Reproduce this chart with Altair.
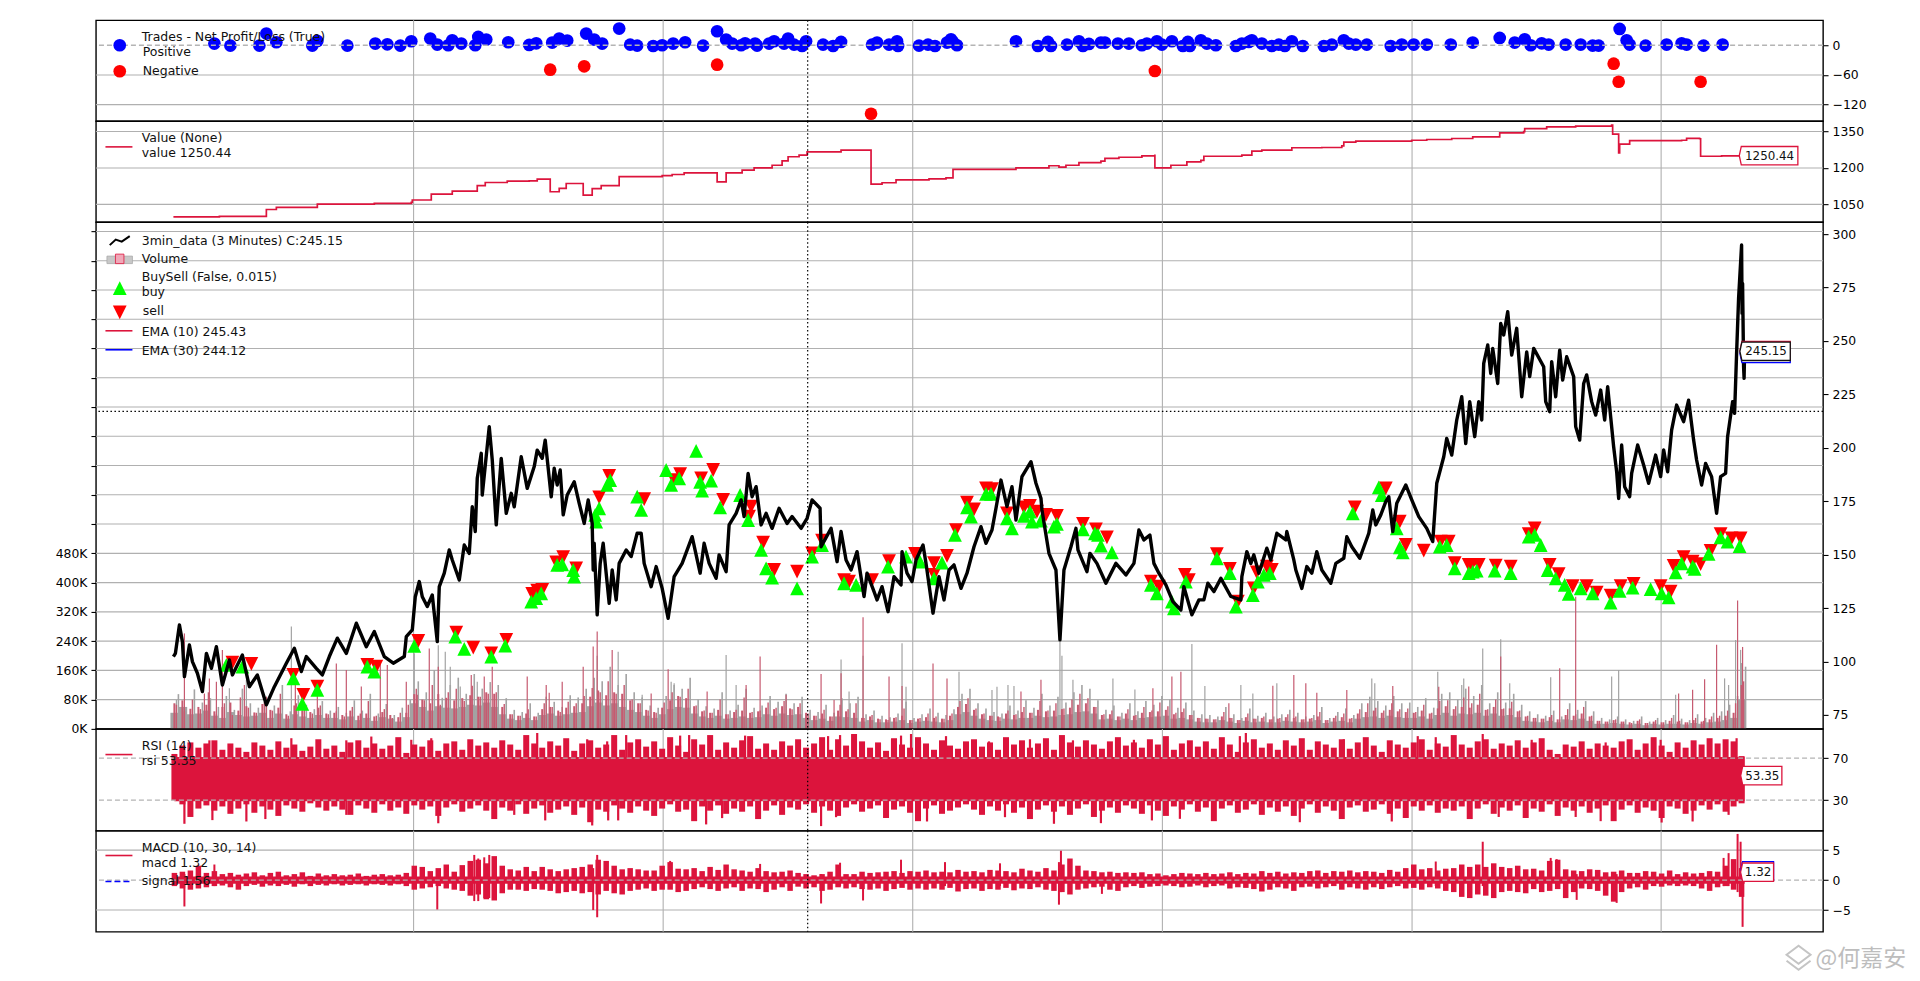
import altair as alt
import pandas as pd

# ---------- data ----------
tick_bars = [414.3, 664, 913.7, 1163.5, 1413.3, 1662.5]
cross_bar = 808.6
price_level = 217.06

trades_pos = [(215,3.4),(231,-0.7),(260,-0.7),(267,23.6),(277,6.1),(313,-0.7),(318,8.8),(348,-0.7),(376,3.4),(388,2),(401,-0.7),(412,8.1),(431,13.5),(438,1.4),(449,0),(453,10.1),(462,3.4),(476,0),(479,16.9),(487,11.5),(509,6.1),(530,0.7),(537,4),(553,5.4),(560,13.5),(568,9.5),(587,23.6),(595,11.5),(603,3.4),
 (620,33.8),(631,1.3),(638,-0.7),(654,-1.4),(663,0),(674,3.4),(686,6.1),(704,-0.7),(718,28.4),(727,11.5),(733,3.4),(742,0),(746,4),(756,3.4),(758,-0.7),(770,3.4),(775,8.1),(785,3.4),(789,13.5),(795,1.3),(803,-1.4),(807,8.1),(824,1.3),(834,-1.4),(842,6.8),(873,1.3),(878,5.4),(890,1.3),(898,8.1),(899,-1.4),(920,-0.7),(929,1.3),(936,-1.4),(948,5.4),(952,12.2),(954,6.8),(958,0),
 (1017,8.1),(1039,-1.4),(1049,6.8),(1052,-1.4),(1068,1.3),(1080,8.1),(1084,-1.4),(1090,2.7),(1102,5.4),(1106,5.4),(1119,3.4),(1130,3.4),(1143,0),(1148,3.4),(1158,8.1),(1163,1.3),(1173,8.1),(1184,-1.4),(1189,6.8),(1191,-1.4),(1202,10.1),(1208,3.4),(1217,0),(1237,-1.4),(1243,3.4),(1250,6.8),(1253,10.1),(1263,3.4),(1273,-1.4),(1280,1.3),(1286,-1.4),(1293,8.1),(1304,-1.4),(1325,-1.4),(1333,1.3),(1345,10.1),(1350,3.4),(1357,1.3),(1368,1.3),(1392,-1.4),
 (1403,1.4),(1415,1.4),(1428,1.4),(1452,1.4),(1474,5.4),(1501,14.9),(1516,5.4),(1526,12.2),(1532,0),(1543,4),(1550,1.4),(1567,1.4),(1582,1.4),(1594,-0.7),(1600,-0.7),(1621,33.1),(1628,10.1),(1631,1.4),(1647,-0.7),(1668,1.4),(1683,4),(1688,1.4),(1705,-0.7),(1724,1.4)]
trades_neg = [(551,-49.3),(585,-42.6),(718,-39.2),(872,-138.5),(1156,-52),(1615,-37.2),(1620,-73.7),(1702,-73.7)]

value_pts = [(174,999),(220,1001),(267,1003),(267,1029),(277,1038),(318,1051),(375,1054),(412,1058),(413,1068),(432,1068),(432,1092),(453,1092),(453,1105),(478,1105),(478,1127),(486,1127),(486,1140),(508,1146),(530,1147),(538,1154),(551,1150),(551,1102),(560,1116),(567,1136),(584,1136),(584,1088),(593,1115),(602,1127),(620,1127),(620,1164),(663,1168),(673,1173),(685,1180),(718,1180),(718,1143),(727,1180),(743,1191),(755,1200),(773,1211),(783,1229),(789,1246),(800,1253),(808,1266),(840,1266),(842,1273),(863,1273),(872,1269),(872,1133),(883,1139),(897,1151),(930,1155),(947,1159),(954,1194),(1017,1200),(1050,1209),(1060,1203),(1067,1211),(1080,1222),(1102,1228),(1106,1239),(1120,1244),(1143,1250),(1156,1255),(1156,1200),(1172,1211),(1188,1225),(1202,1231),(1205,1248),(1243,1253),(1253,1269),(1263,1273),(1293,1283),(1323,1284),(1343,1291),(1345,1306),(1357,1310),(1413,1314),(1428,1317),(1453,1321),(1474,1328),(1501,1328),(1501,1344),(1525,1349),(1526,1362),(1548,1369),(1577,1372),(1613,1376),(1614,1339),(1620,1336),(1620,1262),(1621,1298),(1627,1298),(1631,1312),(1683,1314),(1688,1322),(1701,1320),(1702,1248),(1723,1250),(1741,1250.44)]

price_pts = [(174,102.3),(176,103.8),(180,117.1),(183,109.3),(185,92.9),(190,107.7),(193,99.9),(198,94.5),(203,85.9),(207,103.8),(212,96.8),(217,106.9),(223,89.0),(230,100.7),(233,93.7),(243,103.0),(250,88.2),(258,93.7),(267,79.7),(275,88.2),(287,99.2),(295,106.2),(302,95.3),(307,102.3),(317,96.8),(323,93.7),(330,102.3),(338,110.9),(347,103.8),(357,117.9),(367,106.9),(375,114.0),(385,102.3),(394,99.2),(405,102.3),(407,111.6),(413,114.8),(416,130.3),(420,137.4),(423,130.3),(428,125.7),(433,131.1),(438,109.3),(440,135.0),(445,141.3),(450,152.2),(453,147.5),(460,138.1),(465,154.5),(470,150.6),(473,172.4),(476,160.8),(478,185.7),(482,197.4),(483,177.9),(490,209.9),(493,194.3),(497,163.9),(502,195.0),(507,169.3),(512,178.7),(515,172.4),(522,195.8),(528,181.0),(535,191.2),(538,198.9),
 (543,195.1),(546,203.6),(552,177.1),(555,190.4),(558,182.6),(561,189.6),(564,168.6),(568,177.9),(575,184.1),(580,174.0),(585,164.6),(589,175.6),(593,164.6),(594,142.8),(595,155.3),(598,121.8),(601,145.9),(604,155.3),(610,127.2),(613,142.8),(617,128.8),(620,145.9),(627,152.2),(632,149.1),(638,160),(642,160),(645,145.9),(652,135),(657,144.4),(663,134.2),(669,120.2),(675,139.7),(683,145.9),(693,158.4),(701,141.3),(705,155.3),(710,145.9),(717,138.9),(720,149.9),(727,142),(730,163.9),(737,169.3),(742,175.6),(745,167.8),(749,188),(753,177.1),(757,181.8),(762,163.9),(767,169.3),(773,162.3),(780,171.7),(788,164.6),(793,167.8),(802,162.3),(808,167),(813,175.6),(821,171.7),(822,153.7),(832,162.3),(838,146.7),(842,160.8),
 (847,147.5),(852,142.8),(858,151.4),(865,130.4),(868,141.3),(875,132.7),(878,128.8),(883,135.0),(889,123.3),(895,139.7),(902,135.8),(903,151.4),(908,141.3),(913,137.4),(917,147.5),(924,154.5),(927,145.9),(934,122.6),(940,139.7),(945,128.8),(950,142.8),(955,145.2),(962,134.2),(968,141.3),(975,153.7),(982,163.1),(987,155.3),(993,161.5),(997,171.7),(1002,184.9),(1008,172.5),(1013,181.8),(1017,166.2),(1023,186.5),(1032,193.5),(1037,183.4),(1042,176.4),(1043,170.9),(1050,150.6),(1057,142.8),(1061,110.1),(1065,142.8),(1072,153.7),(1077,162.3),(1079,152.2),(1088,142.0),(1091,150.6),(1098,145.9),(1107,136.6),(1117,145.9),(1127,140.5),(1135,145.9),(1140,161.5),(1145,156.9),(1151,159.2),(1155,145.9),(1160,141.3),
 (1167,135.8),(1174,128.0),(1182,124.1),(1185,135.0),(1193,121.8),(1200,128.8),(1205,128.8),(1209,136.6),(1215,132.7),(1222,138.9),(1232,130.4),(1242,128.8),(1243,139.7),(1248,151.4),(1252,145.9),(1255,149.9),(1260,141.3),(1268,153.0),(1272,147.5),(1278,160.0),(1287,156.9),(1288,160.8),(1295,147.5),(1297,142.8),(1303,134.2),(1308,144.4),(1313,141.3),(1318,151.4),(1323,142.8),(1332,136.6),(1337,145.9),(1345,148.3),(1348,158.4),(1353,153.7),(1361,148.3),(1370,160.0),(1374,170.9),(1377,163.9),(1382,168.6),(1387,174.8),(1390,177.1),(1394,160.8),(1398,174.0),(1407,182.6),(1413,175.6),(1420,167.8),(1428,162.3),(1434,156.1),(1438,183.4),(1445,195.8),(1448,204.4),(1453,196.6),(1458,213),(1463,223.9),(1467,202),(1471,221.6),(1476,205.2),(1480,221.6),(1483,213),(1485,239.5),(1489,248.1),(1492,234.8),(1494,246.5),(1499,230.1),(1502,258.2),(1505,252.8),(1509,263.7),(1513,243.4),(1518,255.9),(1523,223.9),(1528,244.9),(1531,233.3),(1535,246.5),(1545,237.9),(1547,221.6),(1551,216.9),(1553,240.3),(1557,223.9),(1561,245.7),(1564,231.7),(1568,242.6),(1575,233.3),(1577,209.9),(1581,203.6),(1585,230.1),(1588,234.1),(1593,221.6),(1597,215.3),(1602,227.0),(1606,213),(1609,228.6),(1615,200.5),(1618,188.8),(1620,176.3),(1623,201.3),(1626,181.8),(1631,177.1),(1633,188),(1639,201.3),(1645,191.9),(1650,183.4),(1657,196.6),(1662,186.5),(1665,199),(1669,188.8),(1673,208.3),(1678,220),(1685,212.2),(1690,222.3),(1695,203.6),(1698,194.3),(1703,182.6),(1707,192.7),(1713,186.5),(1718,169.3),(1722,186.5),(1727,188),(1729,205.2),(1734,221.6),(1736,216.1),(1738,244.2),(1740,269.9),(1743,294.9),(1743.5,262.9),(1744,276.9),(1745,238),(1745.5,232.5),(1746,245.15)]

buy_pts = [(227,98.4),(243,97.6),(294,92.1),(303,80.1),(318,86.7),(368,97.6),(375,95.3),(415,107.3),(456,111.6),(465,105.9),(492,102.3),(506,107.4),(532,128.0),(537,129.6),
 (542,131.9),(558,145.2),(563,145.5),(574,142.8),(575,139.7),(596,168.6),(597,165.4),(600,171.7),(608,182.6),(611,184.9),(638,177.1),(642,170.9),(667,189.6),(672,182.6),(680,185.7),(697,198.6),(701,184.1),(703,179.9),(712,184.6),(721,172.1),(741,177.9),(749,166.2),(762,152.2),(767,143.6),(773,139.2),(798,134.2),(813,149.1),(823,154.5),(845,136.6),
 (857,135.8),(889,144.4),(907,149.1),(921,146.7),(935,138.9),(943,146.3),(956,159.2),(968,172.1),(972,167.8),(987,178.4),(992,178.4),(1008,167.0),(1013,162.3),(1025,168.1),(1031,170.1),(1033,165.4),(1042,165.9),(1055,163.1),(1058,164.4),(1084,161.8),(1096,160.0),(1099,159.2),(1102,154.2),(1113,151.1),(1152,135.8),(1158,131.9),
 (1173,128.0),(1175,124.9),(1187,137.4),(1218,148.3),(1231,141.3),(1237,125.7),(1254,131.1),(1259,137.4),(1265,140.5),(1271,141.3),(1354,169.3),(1380,181.5),(1383,177.9),(1398,162.3),(1401,153.4),(1404,151.1),(1441,153.7),(1448,154.5),(1456,143.6),(1470,141.3),
 (1474,142.0),(1478,142.5),(1496,142.5),(1512,141.3),(1530,158.4),(1536,159.2),(1542,154.5),(1549,142.8),(1557,138.9),(1566,135.8),(1570,131.6),(1582,134.2),(1594,131.9),(1612,127.5),(1621,133.0),(1634,134.6),(1652,133.9),(1663,131.9),(1670,130.0),(1677,141.7),(1683,145.9),(1694,144.4),(1696,143.3),(1710,150.3),(1722,158.1),(1729,156.1),(1741,154.0)]

sell_pts = [(233,99.5),(252,98.9),(294,93.7),(304,84.3),(318,88.2),(368,98.4),(377,97.6),(419,109.6),(457,113.5),(474,106.5),(492,103.8),(507,110.1),(533,131.6),(538,133.2),
 (543,133.5),(557,146.4),(564,148.8),(577,143.6),(600,176.8),(610,186.8),(645,176.0),(675,184.9),(681,187.7),(702,185.7),(714,189.6),(724,175.6),(752,172.5),(750,167.8),(764,155.6),(775,142.8),(798,142.0),(813,150.6),(823,156.5),(845,138.1),
 (850,137.4),(873,138.1),(890,147.0),(916,150.3),(935,146.0),(935,140.5),(948,149.4),(957,161.5),(968,174.3),(975,171.2),(987,181.0),(993,180.6),(1008,169.3),(1025,172.1),(1031,172.8),(1038,170.1),(1047,168.6),(1058,168.1),(1084,164.4),(1097,161.8),(1108,158.1),(1152,137.4),
 (1160,135.0),(1186,140.5),(1190,138.1),(1218,150.2),(1231,143.3),(1239,128.0),(1255,134.2),(1258,141.7),(1268,144.4),(1273,142.8),(1356,172.1),(1387,181.0),(1401,165.4),(1407,154.5),(1425,151.9),(1442,156.1),(1450,156.1),(1456,146.0),(1470,145.2),
 (1473,145.2),(1480,145.2),(1497,144.8),(1512,144.4),(1530,159.6),(1536,162.3),(1551,145.2),(1560,140.9),(1574,135.3),(1588,135.3),(1598,132.2),(1612,130.8),(1622,135.3),(1635,136.3),(1662,135.3),(1672,132.7),(1675,144.7),(1685,148.8),(1694,146.7),(1702,145.6),(1712,151.7),(1722,159.6),(1733,157.6),(1742,157.6)]

# dense series, one reading per 8 bars starting at bar 175
dense_start = 175
dense_step = 8
vol_gray = [70,78,55,60,66,48,60,72,50,62,45,68,52,58,40,64,50,46,58,42,
 44,38,50,36,42,34,46,38,32,44,95,80,70,95,85,78,84,92,88,100,
 96,60,40,36,42,34,54,60,50,58,62,70,88,105,92,100,96,78,70,52,
 46,58,78,90,84,62,48,44,52,40,46,50,44,48,58,54,62,56,60,44,
 36,42,34,50,48,44,30,34,28,26,30,36,24,28,32,30,28,36,60,68,
 52,40,36,34,42,38,46,44,52,48,50,54,58,66,70,60,38,40,34,42,
 36,44,46,48,52,40,46,38,30,28,26,34,30,24,32,28,30,26,28,32,
 30,26,28,34,24,30,32,28,42,46,50,44,52,48,46,44,50,42,56,62,
 54,60,58,66,52,60,54,56,48,34,30,28,32,26,38,36,42,34,22,20,
 24,20,18,22,16,20,18,22,20,18,24,20,26,30,36,44,120]
vol_pink = [44,60,40,42,50,36,30,46,38,34,36,44,30,42,28,40,34,30,38,30,
 30,26,34,24,30,22,32,28,20,32,70,60,50,62,58,56,60,66,64,72,
 60,40,28,24,30,24,38,42,36,40,44,46,62,72,64,70,60,52,46,36,
 30,40,54,60,58,42,34,30,36,28,30,34,30,32,40,36,42,38,40,30,
 24,28,22,34,32,30,20,24,18,18,20,24,16,20,22,20,18,24,40,46,
 36,28,24,22,28,26,30,30,36,32,34,38,40,46,48,42,26,28,24,28,
 24,30,32,34,36,28,30,26,20,18,18,24,20,16,22,18,20,18,18,22,
 20,18,20,24,16,20,22,18,28,32,34,30,36,32,30,30,34,28,38,44,
 36,42,40,44,36,42,36,38,32,22,20,18,22,18,26,24,28,22,14,14,
 16,14,12,14,10,14,12,14,14,12,16,14,18,20,24,30,80]
vol_fine_gray = [95,60,108,72,84,60,90,52,110,70,58,88,64,120,48,92,66,54,76,50,
 60,44,78,50,96,42,68,38,58,80,130,100,160,85,120,140,96,150,110,128,
 120,84,52,46,70,44,88,74,60,92,86,110,140,130,170,120,150,100,86,64,
 58,90,120,110,140,80,62,56,100,50,66,110,58,64,90,74,96,70,88,52,
 46,66,44,84,70,88,40,50,36,32,42,74,30,40,56,44,38,54,96,110,
 70,56,46,42,64,50,78,58,96,64,88,72,100,120,110,78,52,64,44,70,
 48,76,66,90,80,58,72,50,40,38,34,60,40,30,56,36,44,34,40,52,
 44,34,38,60,30,46,56,38,70,88,76,64,90,70,72,60,84,58,96,100,
 80,110,90,120,70,100,72,96,66,48,40,36,50,34,70,52,76,48,30,26,
 34,26,22,34,20,30,24,38,28,24,40,30,44,48,66,90,170]
vol_fine_pink = [66,48,80,54,100,40,70,38,86,58,44,74,50,96,36,70,52,42,64,40,
 48,34,60,42,76,36,54,30,44,66,110,78,120,66,100,110,76,118,88,96,
 100,68,40,36,54,34,70,60,46,74,70,90,112,100,130,96,120,80,70,50,
 44,72,100,88,110,64,50,44,80,40,52,86,46,50,72,58,76,54,70,42,
 36,52,34,66,54,70,30,38,26,24,32,56,24,30,42,34,28,42,76,84,
 56,42,36,32,50,40,60,44,76,50,70,56,80,96,84,60,40,50,34,54,
 38,60,50,72,62,44,56,38,30,28,26,46,30,24,42,28,34,26,30,40,
 34,26,30,46,24,36,42,30,54,70,58,50,70,54,56,46,66,44,76,78,
 62,86,70,96,54,80,56,74,50,36,30,28,38,26,54,40,60,36,22,20,
 26,20,16,26,16,24,18,30,22,18,30,22,34,36,50,70,130]
vol_spikes_gray = [(177,79),(230,111),(247,134),(292,280),(303,88),(415,207),(439,229),(446,211),(451,170),(461,116),(478,129),(598,200),(619,211),(643,93),(672,129),(675,125),(727,202),(737,120),(842,190),(850,102),(864,200),(903,234),(907,115),(960,156),(993,106),(998,115),(1009,120),(1015,117),(1061,238),(1063,200),(1074,134),(1114,138),(1136,108),(1193,232),(1206,117),(1242,120),(1254,97),(1278,125),(1373,138),(1376,125),(1439,156),(1463,120),(1465,138),(1484,220),(1502,245),(1511,125),(1552,141),(1613,143),(1620,161),(1677,93),(1726,138),(1730,120),(1737,243),(1742,216),(1743,180)]
vol_spikes_pink = [(185,261),(205,97),(210,138),(217,129),(223,216),(245,120),(267,88),(296,143),(318,125),(337,179),(347,161),(362,116),(381,179),(388,175),(407,129),(418,93),(430,220),(439,170),(472,147),(485,143),(493,170),(528,143),(547,120),(550,99),(563,129),(584,170),(594,225),(598,266),(613,216),(652,97),(669,163),(708,102),(747,120),(761,198),(787,93),(822,150),(835,79),(842,152),(864,305),(890,143),(903,117),(934,179),(948,138),(1022,102),(1042,134),(1154,111),(1173,143),(1182,156),(1230,70),(1274,118),(1295,147),(1307,125),(1318,99),(1348,106),(1394,117),(1440,115),(1470,116),(1502,198),(1561,166),(1577,361),(1680,97),(1694,107),(1706,136),(1718,230),(1739,351),(1744,224)]

rsi_hi = [74,82,85,80,84,87,78,84,80,76,85,82,78,86,80,83,77,81,88,79,
 82,76,85,87,80,84,79,82,90,75,83,81,87,77,84,86,78,88,82,85,
 80,87,83,78,92,84,80,86,82,89,77,84,87,80,83,92,78,85,88,81,
 86,79,90,82,76,88,83,92,78,85,80,87,91,79,84,78,86,82,88,80,
 84,90,78,88,82,93,86,80,85,77,89,83,80,90,84,78,87,82,79,86,
 88,81,85,78,90,83,87,80,84,89,78,92,85,81,87,83,79,86,90,82,
 85,80,88,83,91,78,84,87,81,86,79,90,83,76,85,88,80,84,78,87,
 82,89,78,86,83,80,88,79,85,90,82,76,87,83,80,85,88,78,84,81,
 92,83,80,86,88,79,84,82,87,80,85,89,78,74,83,81,86,79,84,82,
 80,86,88,78,84,90,82,76,85,80,87,83,89,84,88,86,72]
rsi_lo = [30,26,14,22,25,20,24,17,22,26,18,24,21,15,25,22,19,27,23,20,
 24,21,16,25,22,18,26,20,23,17,25,21,24,15,23,26,19,22,25,20,
 12,23,20,26,17,22,25,18,21,24,16,23,9,21,19,25,22,18,24,20,
 15,22,26,19,21,10,24,20,25,17,22,19,24,12,20,25,16,23,21,26,
 18,24,20,15,23,26,19,22,25,13,21,24,18,10,22,25,17,20,23,26,
 21,16,24,20,26,18,23,12,21,25,19,24,16,22,26,14,20,23,18,25,
 22,17,25,20,15,24,21,26,19,23,10,22,25,18,21,26,16,23,19,24,
 15,22,26,18,24,20,12,23,25,19,21,26,17,22,13,24,20,25,18,22,
 20,24,12,22,26,17,23,20,25,13,22,19,26,15,23,20,24,18,22,25,
 10,21,25,18,23,20,13,24,22,17,20,25,21,26,19,24,27]
rsi_band = [(175,1746,71,29)]
rsi_peak_x = [210,292,347,372,412,432,538,588,608,627,672,681,690,746,829,841,893,902,912,921,947,990,1031,1074,1135,1241,1247,1345,1419,1437,1484,1533,1607,1662,1738]
rsi_peak_v = [87,89,87,90.6,87.5,89,94,88,86,92,88,91.5,92,91.5,91,92,88,91.5,93,87,91,86,88,87,87.5,91,94,88,91,90,93,87.5,85,87.5,89]
rsi_dip_x = [185,213,247,266,347,439,515,546,593,609,619,707,723,822,837,928,1006,1055,1102,1153,1181,1301,1393,1500,1577,1602,1663,1694,1730]
rsi_dip_v = [7.5,11,9.7,12,16,8,16,10.7,5.9,10.7,10.7,6.9,12.9,5.3,13.8,9.7,13.8,7.5,8.1,10.7,12.2,9,9.7,14,14,10,8.7,9.7,16]

macd_hi = [1.2,1.4,1.6,2.4,1.2,1.5,1.0,1.2,0.9,1.1,1.3,0.8,1.2,1.4,0.8,1.0,1.3,0.7,1.1,0.8,
 1.0,0.8,0.9,1.1,0.7,0.9,1.0,0.8,0.9,1.2,2.4,2.2,1.5,2.0,2.6,1.4,2.5,3.2,3.4,2.8,
 4.0,2.4,1.8,1.6,2.2,1.5,2.2,1.8,1.5,1.8,2.0,2.2,2.6,3.4,3.2,2.4,1.8,2.0,1.8,1.6,
 1.6,2.4,3.0,1.9,1.8,2.0,1.5,2.2,1.7,2.6,1.8,1.6,1.4,2.0,1.5,1.3,1.4,1.6,1.2,1.0,
 0.8,1.0,1.4,2.6,1.0,1.0,1.4,1.2,1.3,1.4,1.5,1.2,1.5,1.4,1.6,1.3,1.4,1.3,1.7,1.4,
 1.5,1.3,1.7,1.6,1.5,1.3,1.9,1.6,1.4,2.0,1.6,2.6,3.6,2.4,1.6,1.5,1.3,1.4,1.2,1.3,
 1.2,1.3,1.0,1.1,0.8,1.0,1.2,1.1,1.0,1.2,1.0,1.1,1.3,1.0,1.2,1.1,1.5,1.2,1.4,1.1,
 1.3,1.2,1.5,1.6,1.2,1.5,1.4,1.6,1.3,1.5,1.4,1.2,1.7,1.4,2.0,2.6,1.8,2.0,1.6,1.9,
 2.0,2.6,2.2,2.6,2.2,2.8,2.2,2.0,2.4,1.8,1.9,1.6,3.2,3.4,1.8,1.6,1.5,1.8,1.7,1.3,
 1.4,1.6,1.2,1.2,1.5,1.4,1.1,1.6,1.0,1.3,1.1,1.2,1.5,1.4,2.4,3.5,2.0]
macd_lo = [-1.0,-1.4,-1.6,-1.4,-1.2,-1.0,-0.9,-1.2,-1.6,-1.0,-0.8,-1.1,-0.9,-1.0,-0.8,-1.1,-0.7,-1.0,-0.8,-0.9,
 -0.7,-0.9,-0.8,-0.7,-0.9,-0.7,-0.8,-0.9,-0.7,-1.0,-1.6,-1.4,-1.2,-1.0,-1.4,-1.6,-1.8,-2.6,-2.4,-3.2,
 -3.4,-2.2,-1.6,-1.6,-1.8,-1.5,-1.6,-1.8,-2.2,-2.0,-1.8,-2.2,-2.0,-2.4,-1.8,-2.2,-2.4,-1.8,-1.6,-1.4,
 -1.8,-1.6,-1.6,-2.0,-1.8,-1.5,-1.2,-1.5,-1.8,-1.4,-1.2,-1.8,-1.4,-1.5,-2.0,-1.6,-1.2,-1.8,-1.1,-1.4,
 -1.2,-1.8,-1.6,-1.2,-1.4,-1.2,-1.5,-1.6,-1.4,-1.8,-1.5,-1.3,-1.6,-1.4,-1.6,-1.4,-1.6,-1.3,-1.9,-1.5,
 -1.4,-1.8,-1.5,-1.6,-1.3,-1.7,-1.4,-1.5,-1.2,-1.6,-1.8,-2.0,-2.4,-1.6,-1.4,-1.2,-1.1,-1.6,-1.8,-1.2,
 -1.0,-1.3,-1.1,-1.0,-0.9,-1.0,-1.2,-1.1,-0.9,-1.2,-1.0,-0.9,-1.4,-1.2,-1.3,-1.5,-1.9,-1.6,-1.2,-1.4,
 -1.8,-1.2,-1.1,-1.4,-1.2,-1.0,-1.6,-1.2,-1.4,-1.6,-1.2,-1.5,-1.2,-1.0,-1.4,-1.3,-1.6,-1.2,-1.4,-1.8,
 -2.0,-2.8,-3.0,-2.4,-2.6,-3.0,-2.0,-1.8,-2.0,-2.2,-1.5,-2.0,-1.8,-1.5,-3.0,-2.0,-1.4,-1.5,-1.8,-2.6,
 -3.6,-2.0,-1.4,-1.2,-1.6,-1.0,-1.1,-0.9,-1.0,-0.9,-1.0,-1.4,-1.8,-1.2,-1.0,-1.6,-2.8]
macd_band = [(175,1746,0.6,-0.6)]
macd_spike_x = [185,215,438,475,479,485,490,594,598,671,761,822,841,864,902,946,1001,1062,1060,1103,1437,1484,1552,1558,1578,1618,1725,1730,1739,1742,1744]
macd_spike_hi = [1,2.6,1,4.2,3.6,3.8,4.2,2,4.2,3.2,2.7,1,2.9,1,3.4,3,2.8,4.9,3,1,3.1,6.4,3.7,3.5,1,1,3.7,4.5,7.7,6.4,3]
macd_spike_lo = [-4.4,-1,-4.9,-3.5,-3.5,-3,-3,-5,-6.2,-1,-1,-3.9,-1,-3.4,-1,-1,-1,-2,-4.1,-2.3,-1,-1,-1,-1,-3.3,-3.8,-1,-1,-2,-2.5,-7.8]

# ---------- layout ----------
W = 1728
H = dict(tr=101, val=101, main=507, rsi=102, macd=101)
FONT = "DejaVu Sans"
CRIMSON = "#dc143c"
GRID = "#b0b0b0"
xscale = alt.Scale(domain=[96.5, 1824.5], nice=False, zero=False)
S = lambda a, b: alt.Scale(domain=[a, b], nice=False, zero=False)
s_tr, s_val, s_price, s_vol = S(-153.5, 50.6), S(977, 1392.3), S(68.45, 305.6), S(0, 1385.6)
s_rsi, s_macd = S(0.8, 97.9), S(-8.62, 8.22)
dense_x = [dense_start + dense_step * i for i in range(len(rsi_hi))]
one = alt.Data(values=[{"a": 1}])


def pts(points, names=("x", "y")):
    df = pd.DataFrame(points, columns=list(names))
    df["i"] = range(len(df))
    return df


def X(axis=None):
    return alt.X("x:Q", scale=xscale, axis=axis, title=None)


def Y(scale, field="y"):
    return alt.Y(f"{field}:Q", scale=scale, axis=None, title=None)


def xgrid(bottom=False):
    axis = None
    if bottom:
        axis = alt.Axis(values=tick_bars, labels=False, ticks=True, tickSize=5, tickColor="black",
                        tickWidth=1.1, grid=False, domain=False, title=None)
    return alt.Chart(pd.DataFrame({"x": tick_bars})).mark_rule(color=GRID, strokeWidth=1.1).encode(x=X(axis))


def hgrid(values, scale):
    return alt.Chart(pd.DataFrame({"y": values})).mark_rule(color=GRID, strokeWidth=1.1).encode(y=Y(scale))


def level(values, scale):
    return alt.Chart(pd.DataFrame({"y": values})).mark_rule(
        color="#b4b4b4", strokeWidth=1.3, strokeDash=[5, 3]).encode(y=Y(scale))


def cross():
    return alt.Chart(pd.DataFrame({"x": [cross_bar]})).mark_rule(
        color="black", strokeWidth=1.2, strokeDash=[1.5, 2.5]).encode(x=X())


def right_axis(values, scale):
    ax = alt.Axis(orient="right", values=values, grid=False, domain=False, ticks=True, tickSize=5,
                  tickColor="black", tickWidth=1.1, labelFont=FONT, labelFontSize=12.4, labelColor="black",
                  labelPadding=4, title=None, format="d", labelOverlap=False, labelFlush=False, labelBound=False)
    return alt.Chart(pd.DataFrame({"y": values})).mark_tick(opacity=0).encode(
        y=alt.Y("y:Q", scale=scale, axis=ax, title=None))


def label(text, top, yc, x=142.3, size=12.5):
    return alt.Chart(one).mark_text(text=text, align="left", baseline="middle", font=FONT, fontSize=size,
                                    color="#111111").encode(x=alt.value(x - 96.5), y=alt.value(yc - top))


def swatch(top, yc, color, dash=None):
    kw = {"strokeDash": dash} if dash else {}
    return alt.Chart(one).mark_rule(color=color, strokeWidth=1.6, **kw).encode(
        x=alt.value(106 - 96.5), x2=alt.value(133 - 96.5), y=alt.value(yc - top))


def glyph(top, yc, shape, size, color, x=120.3, filled=True):
    if filled:
        mk = alt.Chart(one).mark_point(shape=shape, size=size, filled=True, fill=color, strokeWidth=0, opacity=1)
    else:
        mk = alt.Chart(one).mark_point(shape=shape, size=size, filled=False, stroke=color, strokeWidth=2, opacity=1)
    return mk.encode(x=alt.value(x - 96.5), y=alt.value(yc - top))


def tag(x, y, text, half, scale, border):
    path = f"M {-half-2} 0 L {-half} -9.2 L {half} -9.2 L {half} 9.2 L {-half} 9.2 Z"
    df = pd.DataFrame({"x": [x], "y": [y], "t": [text]})
    box = alt.Chart(df).mark_point(shape=path, size=4, filled=True, fill="white", stroke=border,
                                   strokeWidth=1.3, opacity=1).encode(x=X(), y=Y(scale))
    if text == "":
        return box
    txt = alt.Chart(df).mark_text(font=FONT, fontSize=11.9, color="#111111", baseline="middle", align="center").encode(
        x=X(), y=Y(scale), text="t:N")
    return box + txt


CIRCLE = "circle"
TRI_UP = "M 0 -1 L 1 1 L -1 1 Z"
TRI_DOWN = "M 0 1 L 1 -1 L -1 -1 Z"
TRI_SIZE = 190
DOT_SIZE = 161

# ---------- trades panel ----------
T = 20.3
trades = alt.layer(
    xgrid(), hgrid([-60, -120], s_tr), right_axis([0, -60, -120], s_tr),
    alt.Chart(pts(trades_pos)).mark_point(shape=CIRCLE, filled=True, fill="#0000ff", strokeWidth=0, size=DOT_SIZE, opacity=1).encode(x=X(), y=Y(s_tr)),
    alt.Chart(pts(trades_neg)).mark_point(shape=CIRCLE, filled=True, fill="#ff0000", strokeWidth=0, size=DOT_SIZE, opacity=1).encode(x=X(), y=Y(s_tr)),
    level([0], s_tr), cross(),
    label("Trades - Net Profit/Loss (True)", T, 36.7),
    label("Positive", T, 51.7, x=143.3), label("Negative", T, 70.7, x=143.3),
    glyph(T, 45.3, CIRCLE, DOT_SIZE, "#0000ff"), glyph(T, 71.3, CIRCLE, DOT_SIZE, "#ff0000"),
).resolve_scale(y="independent").properties(width=W, height=H["tr"])

# ---------- value panel ----------
T = 121
value = alt.layer(
    xgrid(), hgrid([1350, 1200, 1050], s_val), right_axis([1350, 1200, 1050], s_val),
    alt.Chart(pts(value_pts)).mark_line(color=CRIMSON, strokeWidth=1.7, interpolate="step-after").encode(
        x=X(), y=Y(s_val), order="i:Q"),
    cross(), tag(1771, 1250.44, "1250.44", 28.3, s_val, CRIMSON),
    label("Value (None)", T, 137.7), label("value 1250.44", T, 152.7), swatch(T, 146.7, CRIMSON),
).resolve_scale(y="independent").properties(width=W, height=H["val"])

# ---------- main panel ----------
T = 222
vol_axis = alt.Axis(orient="left", values=list(range(0, 1361, 80)), grid=False, domain=False, tickSize=5,
                    tickColor="black", tickWidth=1.1, labelFont=FONT, labelFontSize=12.4, labelColor="black",
                    labelPadding=4, title=None, labelOverlap=False, labelFlush=False, labelBound=False,
                    labelExpr="datum.value <= 480 ? datum.value + 'K' : ''")
base = pd.DataFrame({"x": dense_x, "g": vol_gray, "p": vol_pink})
fine_g = pd.DataFrame({"x": [v + 4 for v in dense_x], "y": vol_fine_gray})
fine_p = pd.DataFrame({"x": [v + 2 for v in dense_x], "y": vol_fine_pink})
bottom = alt.value(H["main"])
GRAY_V, PINK_V = "#a3a3a3", "#c65a70"
main = alt.layer(
    xgrid(), hgrid(list(range(80, 1361, 80)), s_vol),
    alt.Chart(pd.DataFrame({"y": list(range(0, 1361, 80))})).mark_tick(opacity=0).encode(
        y=alt.Y("y:Q", scale=s_vol, axis=vol_axis, title=None)),
    right_axis([300, 275, 250, 225, 200, 175, 150, 125, 100, 75], s_price),
    alt.Chart(pts(vol_spikes_gray)).mark_rule(color=GRAY_V, strokeWidth=1.2).encode(x=X(), y=Y(s_vol), y2=bottom),
    alt.Chart(fine_g).mark_rule(color=GRAY_V, strokeWidth=1.6).encode(x=X(), y=Y(s_vol), y2=bottom),
    alt.Chart(base).mark_rule(color=GRAY_V, strokeWidth=8).encode(x=X(), y=Y(s_vol, "p"), y2=bottom),
    alt.Chart(fine_p).mark_rule(color=PINK_V, strokeWidth=1.4).encode(x=X(), y=Y(s_vol), y2=bottom),
    alt.Chart(base).mark_rule(color=PINK_V, strokeWidth=2).encode(x=X(), y=Y(s_vol, "g"), y2=bottom),
    alt.Chart(pts(vol_spikes_pink)).mark_rule(color=PINK_V, strokeWidth=1.2).encode(x=X(), y=Y(s_vol), y2=bottom),
    alt.Chart(pts(sell_pts)).mark_point(shape=TRI_DOWN, size=TRI_SIZE, filled=True, fill="#ff0000", strokeWidth=0, opacity=1).encode(
        x=X(), y=Y(s_price)),
    alt.Chart(pts(buy_pts)).mark_point(shape=TRI_UP, size=TRI_SIZE, filled=True, fill="#00ff00", strokeWidth=0, opacity=1).encode(
        x=X(), y=Y(s_price)),
    alt.Chart(pts(price_pts)).mark_line(color="black", strokeWidth=3.4, strokeJoin="round").encode(
        x=X(), y=Y(s_price), order="i:Q"),
    alt.Chart(pd.DataFrame({"y": [price_level]})).mark_rule(color="black", strokeWidth=1.3, strokeDash=[1.5, 2.5]).encode(
        y=Y(s_price)),
    cross(),
    tag(1767.5, 244.12, "", 24.2, s_price, "#0000ff"),
    tag(1767.5, 245.43, "", 24.2, s_price, CRIMSON),
    tag(1767.5, 245.15, "245.15", 24.2, s_price, "#111111"),
    label("3min_data (3 Minutes) C:245.15", T, 240.7),
    label("Volume", T, 258.7),
    label("BuySell (False, 0.015)", T, 277.3), label("buy", T, 292.3), label("sell", T, 311.3, x=143.3),
    label("EMA (10) 245.43", T, 331.7), label("EMA (30) 244.12", T, 350.7),
    swatch(T, 330.7, CRIMSON), swatch(T, 349.7, "#0000ff"),
    glyph(T, 240.5, "M -10 4.5 L -4 -1 L 2 1 L 10 -4.5", 4, "black", filled=False),
    alt.Chart(one).mark_rect(color="#c8c8c8", stroke="#a8a8a8", strokeWidth=0.8).encode(
        x=alt.value(107.5 - 96.5), x2=alt.value(133 - 96.5), y=alt.value(256 - T), y2=alt.value(263.5 - T)),
    alt.Chart(one).mark_rect(color="#f0a8b8", stroke=CRIMSON, strokeWidth=0.8).encode(
        x=alt.value(116 - 96.5), x2=alt.value(124.5 - 96.5), y=alt.value(254 - T), y2=alt.value(263.5 - T)),
    glyph(T, 288, TRI_UP, TRI_SIZE, "#00ff00"), glyph(T, 312.3, TRI_DOWN, TRI_SIZE, "#ff0000"),
).resolve_scale(y="independent").properties(width=W, height=H["main"])

# ---------- RSI panel ----------
T = 729
rsi_df = pd.DataFrame({"x": dense_x, "hi": rsi_hi, "lo": rsi_lo})
band_df = pd.DataFrame(rsi_band, columns=["x", "x2", "hi", "lo"])
rsi_peaks = pd.DataFrame({"x": rsi_peak_x, "hi": rsi_peak_v, "lo": [50] * len(rsi_peak_x)})
rsi_dips = pd.DataFrame({"x": rsi_dip_x, "hi": [50] * len(rsi_dip_x), "lo": rsi_dip_v})
rsi = alt.layer(
    xgrid(), right_axis([70, 30], s_rsi),
    alt.Chart(rsi_df).mark_rule(color=CRIMSON, strokeWidth=6).encode(x=X(), y=Y(s_rsi, "hi"), y2="lo:Q"),
    alt.Chart(rsi_peaks).mark_rule(color=CRIMSON, strokeWidth=2.2).encode(x=X(), y=Y(s_rsi, "hi"), y2="lo:Q"),
    alt.Chart(rsi_dips).mark_rule(color=CRIMSON, strokeWidth=2.2).encode(x=X(), y=Y(s_rsi, "hi"), y2="lo:Q"),
    alt.Chart(band_df).mark_rect(color=CRIMSON).encode(x=X(), x2="x2:Q", y=Y(s_rsi, "hi"), y2="lo:Q"),
    level([70, 30], s_rsi), cross(), tag(1763.7, 53.35, "53.35", 19.6, s_rsi, CRIMSON),
    label("RSI (14)", T, 745.7), label("rsi 53.35", T, 760.7), swatch(T, 754.7, CRIMSON),
).resolve_scale(y="independent").properties(width=W, height=H["rsi"])

# ---------- MACD panel ----------
T = 831
macd_df = pd.DataFrame({"x": dense_x, "hi": macd_hi, "lo": macd_lo})
macd_sp = pd.DataFrame({"x": macd_spike_x, "hi": macd_spike_hi, "lo": macd_spike_lo})
macd_bd = pd.DataFrame(macd_band, columns=["x", "x2", "hi", "lo"])
macd = alt.layer(
    xgrid(bottom=True), hgrid([5, -5], s_macd), right_axis([5, 0, -5], s_macd),
    alt.Chart(macd_df).mark_rule(color=CRIMSON, strokeWidth=5.5).encode(x=X(), y=Y(s_macd, "hi"), y2="lo:Q"),
    alt.Chart(macd_bd).mark_rect(color=CRIMSON).encode(x=X(), x2="x2:Q", y=Y(s_macd, "hi"), y2="lo:Q"),
    alt.Chart(macd_sp).mark_rule(color=CRIMSON, strokeWidth=2).encode(x=X(), y=Y(s_macd, "hi"), y2="lo:Q"),
    level([0], s_macd), cross(),
    tag(1759.5, 1.56, "", 15.5, s_macd, "#0000ff"), tag(1759.5, 1.32, "1.32", 15.5, s_macd, CRIMSON),
    label("MACD (10, 30, 14)", T, 847.7), label("macd 1.32", T, 862.7), label("signal 1.56", T, 881.7),
    swatch(T, 855.7, CRIMSON), swatch(T, 881.7, "#0000ff", dash=[6, 3]),
    alt.Chart(one).mark_text(text="@何嘉安", align="left", baseline="middle", font="Noto Sans CJK SC", fontSize=23,
                             color="#bdbdbd").encode(x=alt.value(1817 - 96.5), y=alt.value(959 - T)),
    glyph(T, 958, "M -12 -3 L 0 -12 L 12 -3 L 0 6 Z M -12 3 L 0 12 L 12 3", 4, "#c4c4c4", x=1800, filled=False),
).resolve_scale(y="independent").properties(width=W, height=H["macd"])

chart = (
    alt.vconcat(trades, value, main, rsi, macd, spacing=0, bounds="flush")
    .properties(padding={"left": 46, "top": 10, "right": 5, "bottom": 0}, background="white")
    .configure_view(stroke="black", strokeWidth=1.4)
)
chart.save("out.html", embed_options={"renderer": "svg", "actions": False})
